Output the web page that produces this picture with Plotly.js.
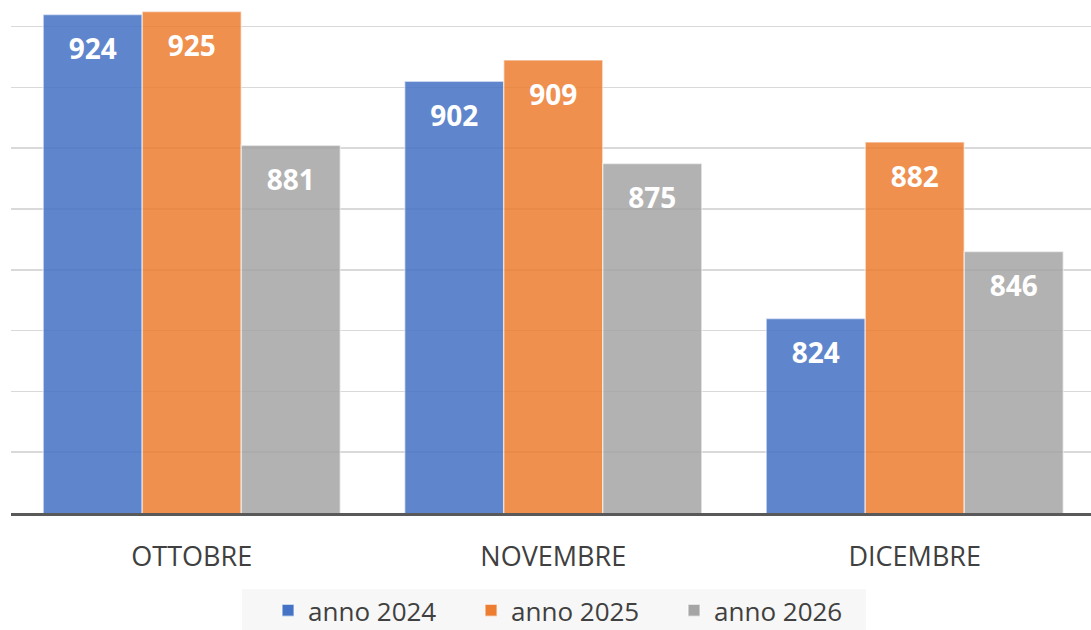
<!DOCTYPE html>
<html><head><meta charset="utf-8">
<script src="https://cdn.plot.ly/plotly-3.0.1.min.js"></script>
<style>html,body{margin:0;padding:0;background:#fff}#chart{width:1091px;height:630px}</style>
</head><body><div id="chart"></div>
<script>
const months = ['OTTOBRE', 'NOVEMBRE', 'DICEMBRE'];
const seriesNames = ['anno 2024', 'anno 2025', 'anno 2026'];
const anno2024 = [924, 902, 824];
const anno2025 = [925, 909, 882];
const anno2026 = [881, 875, 846];

const colors = ['#4472C4', '#ED7D31', '#A5A5A5'];
const allSeries = [anno2024, anno2025, anno2026];
const FONT = 'Open Sans, Lato, sans-serif';

const traces = [];
allSeries.forEach((v, i) => {
  traces.push({
    type: 'bar', name: seriesNames[i], x: months, y: v,
    marker: {color: colors[i], opacity: 0.85, line: {color: 'rgba(255,255,255,0.55)', width: 1.5}},
    hoverinfo: 'skip'
  });
});
allSeries.forEach((v, i) => {
  traces.push({
    type: 'scatter', mode: 'markers+text', x: months, y: v,
    text: v.map(String), textposition: 'bottom center',
    textfont: {family: FONT, size: 28, color: '#ffffff', weight: 'bold'},
    marker: {size: 36, opacity: 0, color: colors[i]},
    showlegend: false, hoverinfo: 'skip', cliponaxis: false
  });
});

const layout = {
  width: 1091, height: 630,
  margin: {l: 11, r: 0, t: 0, b: 117, autoexpand: false},
  paper_bgcolor: '#ffffff', plot_bgcolor: '#ffffff',
  barmode: 'group', bargap: 0.178, bargroupgap: 0,
  scattermode: 'group', scattergap: 0.178,
  xaxis: {
    type: 'category', range: [-0.5, 2.4876],
    showline: true, linecolor: '#595959', linewidth: 3,
    ticks: '', showgrid: false, zeroline: false,
    tickfont: {family: FONT, size: 27, color: '#404040'},
    ticklabelstandoff: 18
  },
  yaxis: {
    range: [760, 928.75], tick0: 760, dtick: 20,
    showticklabels: false, ticks: '', showline: false, zeroline: false,
    gridcolor: '#D9D9D9', gridwidth: 1.5
  },
  shapes: [{
    type: 'rect', xref: 'paper', yref: 'paper', layer: 'below',
    x0: 0.2139, x1: 0.7917, y0: -0.1481, y1: -0.25,
    fillcolor: '#F7F7F7', line: {width: 0}
  }],
  showlegend: true,
  legend: {
    orientation: 'h', x: 0.2380, xanchor: 'left', y: -0.1442, yanchor: 'top',
    bgcolor: 'rgba(0,0,0,0)', font: {family: FONT, size: 26, color: '#404040'},
    entrywidth: 158, entrywidthmode: 'pixels', traceorder: 'normal'
  }
};

Plotly.newPlot('chart', traces, layout, {displayModeBar: false, staticPlot: true});
</script>
</body></html>
